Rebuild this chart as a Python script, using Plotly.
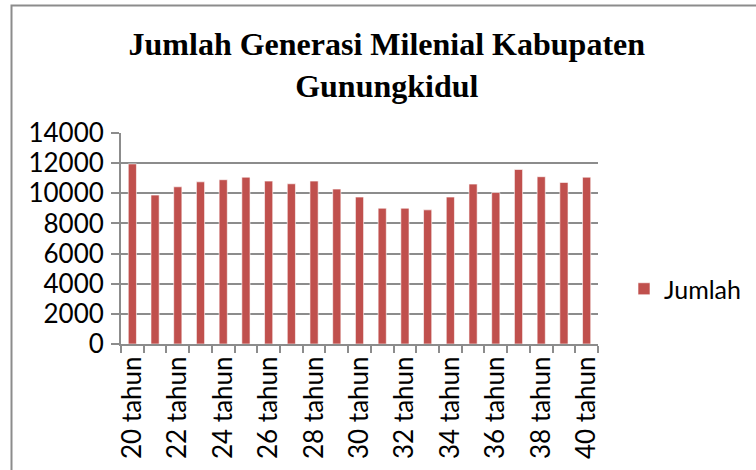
import plotly.graph_objects as go

categories = [f"{a} tahun" for a in range(20, 41)]
values = [11950, 9880, 10430, 10760, 10900, 11070, 10810, 10630, 10810, 10280,
          9750, 9010, 9010, 8900, 9750, 10610, 10050, 11580, 11100, 10720, 11070]
series_name = "Jumlah"
y_ticks = [0, 2000, 4000, 6000, 8000, 10000, 12000, 14000]

idx = list(range(len(categories)))
label_idx = idx[::2]

W, H = 756, 470
L, R, T, B = 121, 598, 133, 344
FONT = "Lato"

fig = go.Figure()
fig.add_trace(go.Bar(
    x=idx, y=values, name=series_name,
    marker=dict(color="#C0504D", line=dict(color="rgba(255,255,255,0.6)", width=1)),
    width=0.36,
))

fig.update_layout(
    width=W, height=H,
    margin=dict(l=L, r=W - R, t=T, b=H - B, pad=0, autoexpand=False),
    paper_bgcolor="white", plot_bgcolor="white",
    title=dict(
        text="<b>Jumlah Generasi Milenial Kabupaten<br>Gunungkidul</b>",
        font=dict(family="Liberation Serif", size=32, color="black"),
        x=386.8 / W, xanchor="center", xref="container",
        y=1 - 55 / H, yanchor="top", yref="container",
    ),
    showlegend=True,
    legend=dict(
        x=(624 - L) / (R - L), xanchor="left",
        y=(B - 289) / (B - T), yanchor="middle",
        font=dict(family=FONT, size=25, color="black"),
        bgcolor="rgba(0,0,0,0)", itemwidth=30,
    ),
    bargap=0.6,
)

fig.update_xaxes(
    range=[-0.5, len(categories) - 0.5],
    tickmode="array", tickvals=label_idx, ticktext=[categories[i] for i in label_idx],
    tickangle=-90, ticks="", showgrid=False,
    showline=True, linecolor="#8c8c8c", linewidth=2,
    tickfont=dict(family=FONT, size=26, color="black"),
    minor=dict(tickmode="linear", tick0=-0.5, dtick=1, ticks="outside",
               ticklen=7, tickcolor="#8c8c8c", tickwidth=2, showgrid=False),
    fixedrange=True, zeroline=False,
)
fig.update_yaxes(
    range=[0, 14000], tickmode="array", tickvals=y_ticks,
    ticktext=[str(v) for v in y_ticks],
    ticks="outside", ticklen=8, tickcolor="#8c8c8c", tickwidth=2,
    showgrid=True, gridcolor="#8c8c8c", gridwidth=2,
    showline=True, linecolor="#8c8c8c", linewidth=2,
    tickfont=dict(family=FONT, size=26, color="black"),
    ticklabelstandoff=2,
    zeroline=False, fixedrange=True,
)

fig.add_shape(type="rect", xref="paper", yref="paper",
              x0=(11.5 - L) / (R - L), x1=3, y0=-2, y1=(B - 5.5) / (B - T),
              line=dict(color="#8c8c8c", width=2), fillcolor="rgba(0,0,0,0)", layer="below")

fig.write_html("out.html", post_script="document.body.style.margin='0';",
               config={"displayModeBar": False})
